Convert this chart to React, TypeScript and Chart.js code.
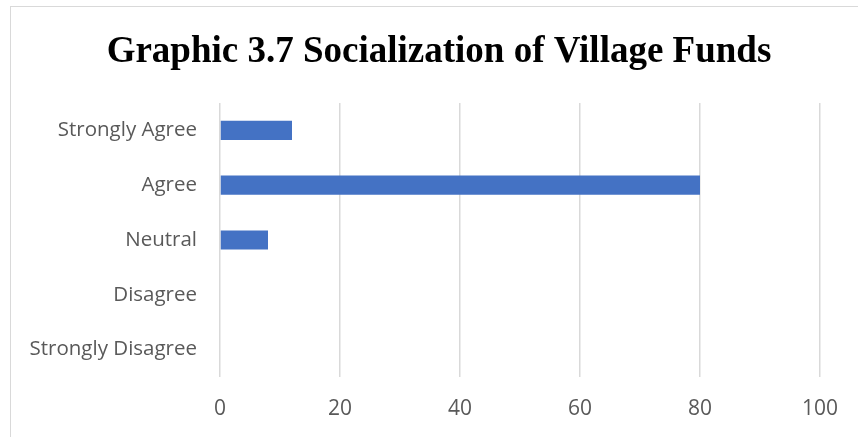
import React, { useEffect, useRef } from "react";
import { Chart, registerables } from "chart.js";

Chart.register(...registerables);

const TITLE = "Graphic 3.7 Socialization of Village Funds";
const categories = ["Strongly Agree", "Agree", "Neutral", "Disagree", "Strongly Disagree"];
const values = [12, 80, 8, 0, 0];
const xMin = 0;
const xMax = 100;
const xStep = 20;

const decorPlugin = {
  id: "decor",
  beforeDraw(chart: any) {
    const ctx = chart.ctx;
    ctx.save();
    ctx.strokeStyle = "#d9d9d9";
    ctx.lineWidth = 1;
    ctx.strokeRect(10.5, 6.5, chart.width + 50, chart.height + 50);
    ctx.fillStyle = "#000000";
    ctx.font = "bold 37px 'Liberation Serif', 'Times New Roman', serif";
    ctx.textAlign = "center";
    ctx.textBaseline = "middle";
    ctx.fillText(TITLE, 439, 52);
    ctx.restore();
  },
};

export default function App() {
  const ref = useRef<HTMLCanvasElement>(null);
  useEffect(() => {
    if (!ref.current) return;
    const chart = new Chart(ref.current, {
      type: "bar",
      data: {
        labels: categories,
        datasets: [
          {
            data: values,
            backgroundColor: "#4472C4",
            barPercentage: 0.7,
            categoryPercentage: 0.5,
          },
        ],
      },
      options: {
        indexAxis: "y",
        responsive: false,
        animation: false,
        maintainAspectRatio: false,
        layout: { padding: { left: 0, right: 38, top: 103, bottom: 0 } },
        plugins: {
          legend: { display: false },
          tooltip: { enabled: false },
          title: { display: false },
        },
        scales: {
          x: {
            min: xMin,
            max: xMax,
            ticks: {
              stepSize: xStep,
              color: "#595959",
              font: { family: "'Open Sans', sans-serif", size: 21 },
              padding: 19,
            },
            grid: { color: "#d9d9d9", drawTicks: false, lineWidth: 1.5 },
            border: { display: false },
            afterFit(scale: any) {
              scale.height = 60;
            },
          },
          y: {
            ticks: {
              color: "#595959",
              font: { family: "'Open Sans', sans-serif", size: 20.5 },
              padding: 23,
            },
            grid: { display: false, drawTicks: false },
            border: { display: false },
            afterFit(scale: any) {
              scale.width = 220;
            },
          },
        },
      },
      plugins: [decorPlugin],
    });
    return () => chart.destroy();
  }, []);
  return (
    <div style={{ position: "fixed", left: 0, top: 0, width: 858, height: 437, background: "#fff" }}>
      <canvas ref={ref} width={858} height={437} />
    </div>
  );
}
